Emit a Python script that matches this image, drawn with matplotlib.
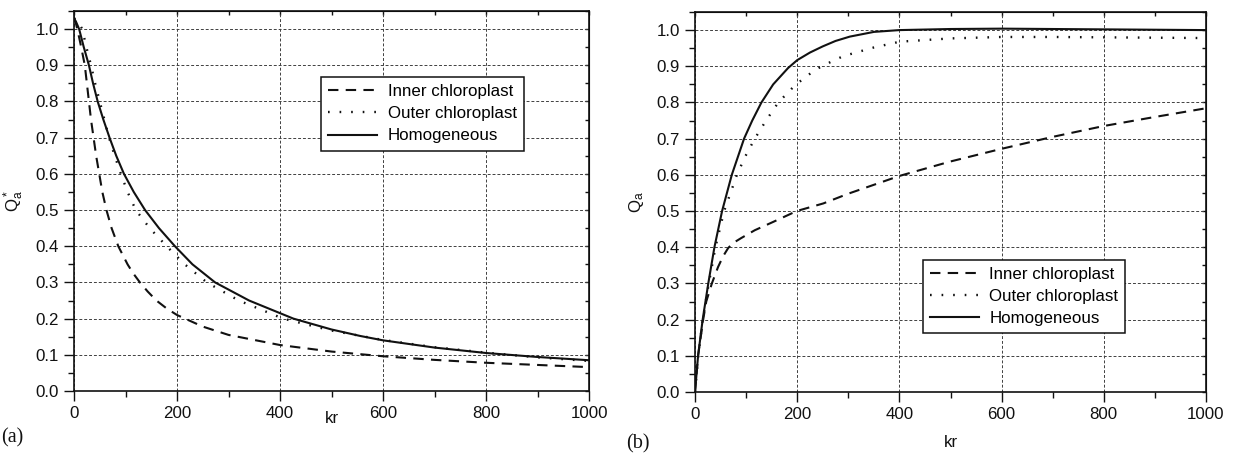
import numpy as np
import matplotlib
matplotlib.use('Agg')
import matplotlib.pyplot as plt
from matplotlib.ticker import MultipleLocator

plt.rcParams['font.family'] = ['Liberation Sans', 'DejaVu Sans']
plt.rcParams['font.size'] = 12.2

# ---- panel (a): Q*_a vs kr ----
kr_a_inner = [0, 3, 8, 14, 21, 25, 29, 33, 38, 43, 49, 55, 63, 73, 86, 104, 115, 128, 143, 160, 180, 200, 250, 300,
              400, 500, 600, 700, 800, 900, 1000]
qa_inner = [1.03, 1.02, 0.99, 0.95, 0.9, 0.85, 0.8, 0.75, 0.7, 0.65, 0.6, 0.55, 0.5, 0.45, 0.4, 0.35, 0.325, 0.3,
            0.275, 0.25, 0.228, 0.21, 0.178, 0.155, 0.127, 0.109, 0.096, 0.086, 0.078, 0.072, 0.066]

kr_a_outer = [0, 6, 16, 24, 33, 41, 50, 59, 68, 79, 91, 104, 120, 147, 180, 215, 258, 320, 406, 500, 600, 700, 800,
              900, 1000]
qa_outer = [1.03, 1.025, 1.0, 0.95, 0.9, 0.85, 0.8, 0.75, 0.7, 0.65, 0.6, 0.55, 0.5, 0.45, 0.4, 0.35, 0.3, 0.25,
            0.2, 0.167, 0.141, 0.121, 0.106, 0.093, 0.083]

kr_a_homog = [0, 4, 10, 19, 29, 37, 46, 57, 69, 82, 97, 116, 138, 165, 196, 230, 274, 340, 426, 500, 556, 600, 700,
              800, 900, 1000]
qa_homog = [1.03, 1.02, 1.0, 0.95, 0.9, 0.85, 0.8, 0.75, 0.7, 0.65, 0.6, 0.55, 0.5, 0.45, 0.4, 0.35, 0.3, 0.25,
            0.2, 0.17, 0.152, 0.14, 0.12, 0.105, 0.094, 0.085]

# ---- panel (b): Q_a vs kr ----
kr_b_inner = [0, 6, 16, 22, 33, 45, 55, 65, 75, 90, 117, 153, 199, 251, 300, 400, 500, 600, 700, 800, 900, 1000]
qb_inner = [0.0, 0.1, 0.2, 0.25, 0.3, 0.345, 0.375, 0.398, 0.412, 0.425, 0.447, 0.47, 0.5, 0.521, 0.548, 0.597,
            0.637, 0.672, 0.705, 0.735, 0.76, 0.784]

kr_b_outer = [0, 6.5, 15, 27, 40, 57, 82, 98, 117, 139, 163, 196, 233, 252, 290, 350, 401, 500, 600, 700, 800, 900,
              1000]
qb_outer = [0.0, 0.1, 0.2, 0.3, 0.4, 0.5, 0.6, 0.65, 0.7, 0.75, 0.8, 0.848, 0.888, 0.903, 0.928, 0.952, 0.968,
            0.977, 0.981, 0.981, 0.98, 0.979, 0.978]

kr_b_homog = [0, 6, 15, 26, 38, 53, 72, 96, 112, 130, 153, 182, 200, 225, 250, 275, 303, 350, 400, 500, 600, 700,
              800, 900, 1000]
qb_homog = [0.0, 0.1, 0.2, 0.3, 0.4, 0.5, 0.6, 0.7, 0.75, 0.8, 0.85, 0.895, 0.917, 0.938, 0.955, 0.97, 0.982, 0.995,
            1.0, 1.003, 1.004, 1.003, 1.002, 1.001, 1.0]

labels = ['Inner chloroplast', 'Outer chloroplast', 'Homogeneous']
ink = '#111111'


def style_axes(ax):
    ax.set_xlim(0, 1000)
    ax.set_ylim(0, 1.05)
    ax.xaxis.set_major_locator(MultipleLocator(200))
    ax.xaxis.set_minor_locator(MultipleLocator(100))
    ax.yaxis.set_major_locator(MultipleLocator(0.1))
    ax.yaxis.set_minor_locator(MultipleLocator(0.05))
    ax.yaxis.set_major_formatter(matplotlib.ticker.FormatStrFormatter('%.1f'))
    ax.tick_params(which='both', direction='out', top=False, right=False, colors=ink, width=1.0)
    ax.tick_params(which='major', length=7, pad=4)
    ax.tick_params(which='minor', length=4)
    ax.grid(True, which='major', color='0.25', linestyle=(0, (3, 2)), linewidth=0.7)
    for s in ax.spines.values():
        s.set_color(ink)
        s.set_linewidth(1.2)
    # inward ticks on top and right
    top = ax.secondary_xaxis('top')
    top.set_xticks(np.arange(0, 1001, 100))
    top.set_xticklabels([])
    top.tick_params(direction='in', length=3, width=1.0, colors=ink)
    right = ax.secondary_yaxis('right')
    right.set_yticks(np.arange(0, 1.051, 0.05))
    right.set_yticklabels([])
    right.tick_params(direction='in', length=3, width=1.0, colors=ink)


def draw(ax, kr_i, q_i, kr_o, q_o, kr_h, q_h):
    ax.plot(kr_i, q_i, color=ink, lw=1.5, linestyle=(0, (5, 3.5)), label=labels[0])
    ax.plot(kr_o, q_o, color=ink, lw=1.7, linestyle=(0, (0.7, 4.2)), label=labels[1])
    ax.plot(kr_h, q_h, color=ink, lw=1.5, linestyle='-', label=labels[2])


fig = plt.figure(figsize=(12.39, 4.57), dpi=100)
ax1 = fig.add_axes([74 / 1239, 1 - 391 / 457, 515 / 1239, 380 / 457])
ax2 = fig.add_axes([695 / 1239, 1 - 392 / 457, 511 / 1239, 380 / 457])

draw(ax1, kr_a_inner, qa_inner, kr_a_outer, qa_outer, kr_a_homog, qa_homog)
draw(ax2, kr_b_inner, qb_inner, kr_b_outer, qb_outer, kr_b_homog, qb_homog)

for ax in (ax1, ax2):
    style_axes(ax)

leg_kw = dict(frameon=True, fancybox=False, edgecolor=ink, framealpha=1, fontsize=12.2,
              handlelength=2.9, handletextpad=0.6, labelspacing=0.42, borderpad=0.42, borderaxespad=0)
leg1 = ax1.legend(loc='upper left', bbox_to_anchor=(0.48, 0.826), **leg_kw)
leg2 = ax2.legend(loc='lower left', bbox_to_anchor=(0.446, 0.155), **leg_kw)
for lg in (leg1, leg2):
    lg.get_frame().set_linewidth(1.1)

ax1.set_ylabel(r'$\mathregular{Q_a^*}$', color=ink, labelpad=7)
ax2.set_ylabel(r'$\mathregular{Q_a}$', color=ink, labelpad=7)
ax1.set_xlabel('kr', color=ink)
ax2.set_xlabel('kr', color=ink)
ax1.xaxis.set_label_coords(0.5, -0.053)
ax2.xaxis.set_label_coords(0.5, -0.113)

fig.text(1 / 1239, 1 - 438 / 457, '(a)', family=['Liberation Serif', 'DejaVu Serif'], fontsize=14.5,
         va='center', ha='left', color=ink)
fig.text(626 / 1239, 1 - 444 / 457, '(b)', family=['Liberation Serif', 'DejaVu Serif'], fontsize=14.5,
         va='center', ha='left', color=ink)

fig.savefig('out.png', dpi=100)
